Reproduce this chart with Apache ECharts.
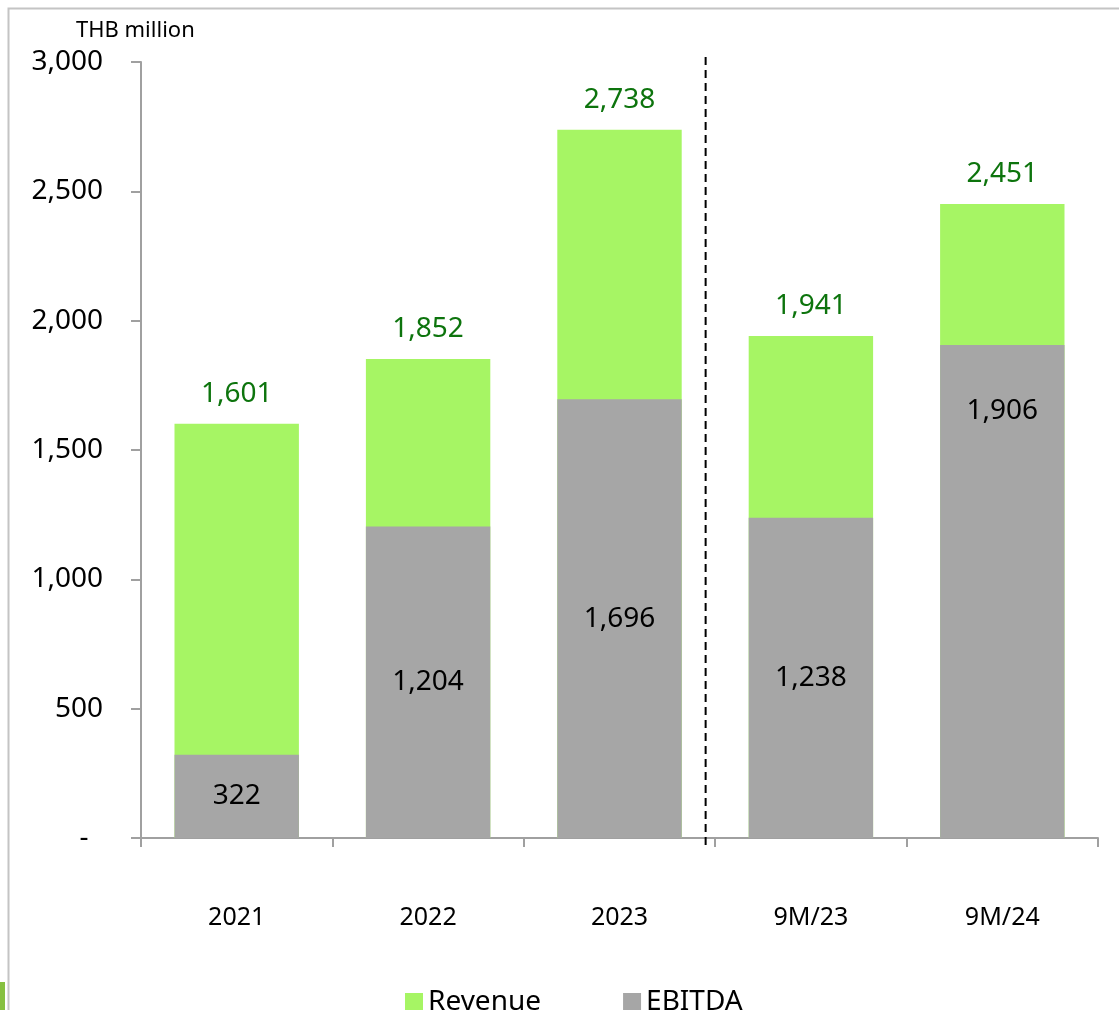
<!DOCTYPE html>
<html>
<head>
<meta charset="utf-8">
<script src="https://cdn.jsdelivr.net/npm/echarts@6/dist/echarts.min.js"></script>
<style>html,body{margin:0;padding:0;background:#fff;}#c{width:1119px;height:1010px;}</style>
</head>
<body>
<div id="c"></div>
<script>
var categories = ['2021', '2022', '2023', '9M/23', '9M/24'];
var revenue = [1601, 1852, 2738, 1941, 2451];
var ebitda = [322, 1204, 1696, 1238, 1906];
var yTicks = [0, 500, 1000, 1500, 2000, 2500, 3000];

var FONT = '"Noto Sans", sans-serif';
function fmt(v) { return v.toString().replace(/\B(?=(\d{3})+(?!\d))/g, ','); }

var chart = echarts.init(document.getElementById('c'), null, {renderer: 'canvas'});

var ebitdaData = ebitda.map(function (v, i) {
  if (i === 4) {
    return {value: v, label: {position: 'insideTop', distance: 52}};
  }
  return v;
});

var option = {
  backgroundColor: '#ffffff',
  animation: false,
  textStyle: {fontFamily: FONT},
  title: {
    text: 'THB million',
    left: 71, top: 15,
    textStyle: {fontFamily: FONT, fontSize: 22, fontWeight: 'normal', color: '#000'}
  },
  legend: {
    data: ['Revenue', 'EBITDA'],
    left: 400, top: 983,
    icon: 'rect',
    itemWidth: 18, itemHeight: 18,
    itemGap: 82,
    textStyle: {fontFamily: FONT, fontSize: 28, color: '#000'}
  },
  grid: {left: 141, right: 21, top: 62, bottom: 172, containLabel: false},
  xAxis: {
    type: 'category',
    data: categories,
    axisLine: {show: true, lineStyle: {color: '#a0a0a0', width: 2}},
    axisTick: {show: true, length: 9, lineStyle: {color: '#a0a0a0', width: 2}},
    axisLabel: {fontFamily: FONT, fontSize: 25, color: '#000', margin: 67}
  },
  yAxis: {
    type: 'value',
    min: yTicks[0], max: yTicks[yTicks.length - 1], interval: 500,
    splitLine: {show: false},
    axisLine: {show: true, lineStyle: {color: '#a0a0a0', width: 2}},
    axisTick: {show: true, inside: false, length: 10, lineStyle: {color: '#a0a0a0', width: 2}},
    axisLabel: {
      fontFamily: FONT, fontSize: 28, color: '#000', margin: 38,
      formatter: function (v) { return v === 0 ? '-\u00a0\u00a0' : fmt(v); }
    }
  },
  series: [
    {
      name: 'Revenue',
      type: 'bar',
      data: revenue,
      barWidth: '65%',
      barGap: '-100%',
      itemStyle: {color: '#a6f564'},
      label: {
        show: true, position: 'top', distance: 16,
        fontFamily: FONT, fontSize: 28, color: '#0d740d',
        formatter: function (p) { return fmt(p.value); }
      },
      z: 2
    },
    {
      name: 'EBITDA',
      type: 'bar',
      data: ebitdaData,
      barWidth: '65%',
      itemStyle: {color: '#a6a6a6'},
      label: {
        show: true, position: 'inside',
        fontFamily: FONT, fontSize: 28, color: '#000',
        formatter: function (p) { return fmt(p.value); }
      },
      z: 3
    }
  ]
};
chart.setOption(option);

// Dashed separator between annual and 9M periods
var pA = chart.convertToPixel({xAxisIndex: 0}, categories[2]);
var pB = chart.convertToPixel({xAxisIndex: 0}, categories[3]);
var sepX = pA + (pB - pA) * 0.45;
var yTop = chart.convertToPixel({yAxisIndex: 0}, 3000) - 5;
var yBot = chart.convertToPixel({yAxisIndex: 0}, 0) + 12;

chart.setOption({
  graphic: [
    {
      type: 'rect', left: 6, top: 6, z: 100, silent: true,
      shape: {x: 0, y: 0, width: 1200, height: 1100},
      style: {fill: 'none', stroke: '#c4c4c4', lineWidth: 2}
    },
    {
      type: 'rect', z: 100, silent: true,
      shape: {x: 0, y: 982, width: 5, height: 28},
      style: {fill: '#86c040'}
    },
    {
      type: 'line', z: 100, silent: true,
      shape: {x1: sepX, y1: yTop, x2: sepX, y2: yBot},
      style: {stroke: '#000', lineWidth: 2, lineDash: [8, 5]}
    }
  ]
});
</script>
</body>
</html>
